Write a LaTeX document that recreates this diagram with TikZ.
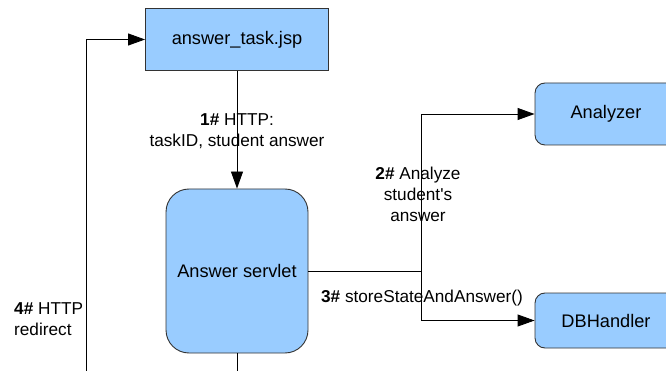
\documentclass[tikz,border=0pt]{standalone}
\usepackage{fontspec}
\setmainfont{Liberation Sans}
\usetikzlibrary{arrows.meta}
\definecolor{boxfill}{HTML}{99CCFF}
\definecolor{boxline}{HTML}{333333}
\tikzset{
  px/.style={x=1pt,y=-1pt},
  box/.style={draw=boxline, fill=boxfill, line width=0.9pt, font=\fontsize{18.2}{20}\selectfont, inner sep=0pt},
  flow/.style={draw=black, line width=0.9pt},
  tip/.style={-{Triangle[length=17pt,width=12pt]}},
  lbl/.style={font=\fontsize{17.2}{21}\selectfont, inner sep=0pt, align=center},
}
\begin{document}
\begin{tikzpicture}[px]
\useasboundingbox (0,0) rectangle (666,371);
\clip (0,0) rectangle (666,371);

% components
\node[box, minimum width=183pt, minimum height=62pt] (jsp) at (237,39.5) {answer\_task.jsp};
\node[box, rounded corners=23pt, minimum width=142pt, minimum height=164pt] (servlet) at (237,271) {Answer servlet};
\node[box, rounded corners=10pt, minimum width=142pt, minimum height=62pt] (analyzer) at (606,114) {Analyzer};
\node[box, rounded corners=10pt, minimum width=142pt, minimum height=55pt] (db) at (606,320.5) {DBHandler};

% loose ends leaving the drawing at the bottom
\coordinate (redir) at (86,380);
\coordinate (down) at (237,380);
\coordinate (fork) at (421,271);

% connectors
\draw[flow, tip] (jsp) -- (servlet);
\draw[flow] (servlet.south) -- (down);
\draw[flow] (servlet.east |- fork) -- (fork);
\draw[flow, tip] (fork) |- (analyzer.west);
\draw[flow, tip] (fork) |- (db.west);
\draw[flow, tip] (redir) |- (jsp.west);

% labels
\node[lbl] (l1) at (237,131) {\textbf{1\#} HTTP:\\taskID, student answer};
\node[lbl] (l2) at (418,194) {\textbf{2\#} Analyze\\student\textquotesingle s\\answer};
\node[lbl] (l3) at (422,298) {\textbf{3\#} storeStateAndAnswer()};
\node[lbl, align=left, anchor=west] (l4) at (14,319.5) {\textbf{4\#} HTTP\\redirect};
\end{tikzpicture}
\end{document}
